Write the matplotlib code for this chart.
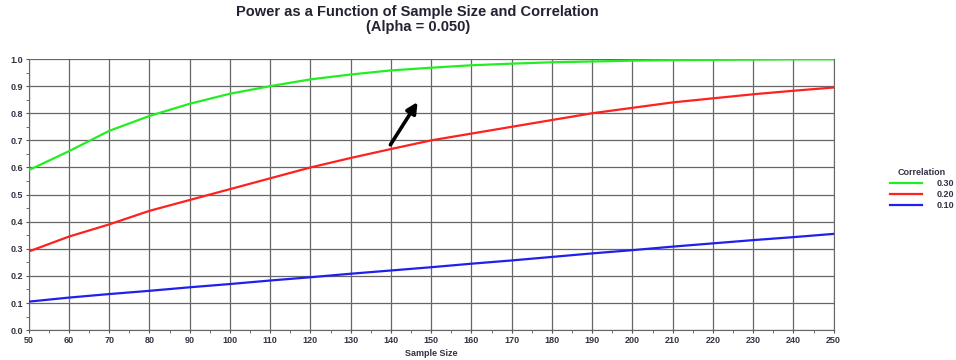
import matplotlib.pyplot as plt
import numpy as np
from matplotlib.ticker import MultipleLocator

plt.rcParams['font.family'] = ['Liberation Sans', 'DejaVu Sans']

sample_size = [50, 60, 70, 80, 90, 100, 110, 120, 130, 140, 150,
               160, 170, 180, 190, 200, 210, 220, 230, 240, 250]
power_030 = [0.59, 0.66, 0.735, 0.79, 0.835, 0.872, 0.90, 0.925, 0.943, 0.958, 0.968,
             0.977, 0.983, 0.988, 0.991, 0.994, 0.996, 0.997, 0.998, 0.999, 0.999]
power_020 = [0.29, 0.345, 0.39, 0.44, 0.48, 0.52, 0.56, 0.60, 0.635, 0.668, 0.70,
             0.725, 0.75, 0.775, 0.80, 0.82, 0.84, 0.855, 0.87, 0.883, 0.895]
power_010 = [0.105, 0.12, 0.133, 0.145, 0.158, 0.17, 0.183, 0.195, 0.208, 0.22, 0.232,
             0.245, 0.257, 0.27, 0.283, 0.295, 0.308, 0.32, 0.332, 0.343, 0.355]
series_labels = ['0.30', '0.20', '0.10']
series_colors = ['#22ee22', '#ff2020', '#2020ee']

fig = plt.figure(figsize=(9.56, 3.6), dpi=100)
ax = fig.add_axes([0.030, 0.083, 0.842, 0.753])

for vals, lab, c in zip([power_030, power_020, power_010], series_labels, series_colors):
    ax.plot(sample_size, vals, color=c, lw=1.6, label=lab, zorder=3)

ax.set_xlim(50, 250)
ax.set_ylim(0, 1.0)
ax.xaxis.set_major_locator(MultipleLocator(10))
ax.xaxis.set_minor_locator(MultipleLocator(5))
ax.yaxis.set_major_locator(MultipleLocator(0.1))
ax.yaxis.set_minor_locator(MultipleLocator(0.05))
ax.yaxis.set_major_formatter(plt.FormatStrFormatter('%.1f'))
ax.grid(True, which='major', color='#666666', lw=0.9)
ax.tick_params(which='both', length=2, color='#555555', labelsize=6.5, labelcolor='#333344', pad=2)
for lbl in ax.get_xticklabels() + ax.get_yticklabels():
    lbl.set_fontweight('bold')
for s in ['top']:
    ax.spines[s].set_visible(False)
for s in ['left', 'bottom', 'right']:
    ax.spines[s].set_color('#666666')

ax.set_xlabel('Sample Size', fontsize=6.5, fontweight='bold', color='#333344', labelpad=3)
fig.suptitle('Power as a Function of Sample Size and Correlation\n(Alpha = 0.050)',
             x=0.437, y=0.985, fontsize=10.5, fontweight='bold', color='#222233', linespacing=1.1)

ax.annotate('', xy=(147, 0.85), xytext=(139.5, 0.675),
            arrowprops=dict(arrowstyle='-|>', color='black', lw=2.6, mutation_scale=16))

leg = ax.legend(loc='upper left', bbox_to_anchor=(1.065, 0.61), frameon=False,
                fontsize=6.5, title='Correlation', title_fontsize=6.5,
                handlelength=3.6, handletextpad=1.6, labelspacing=0.2, borderaxespad=0)
leg.get_title().set_fontweight('bold')
leg.get_title().set_color('#333344')
for t in leg.get_texts():
    t.set_fontweight('bold')
    t.set_color('#333344')

fig.savefig('out.png', dpi=100)
